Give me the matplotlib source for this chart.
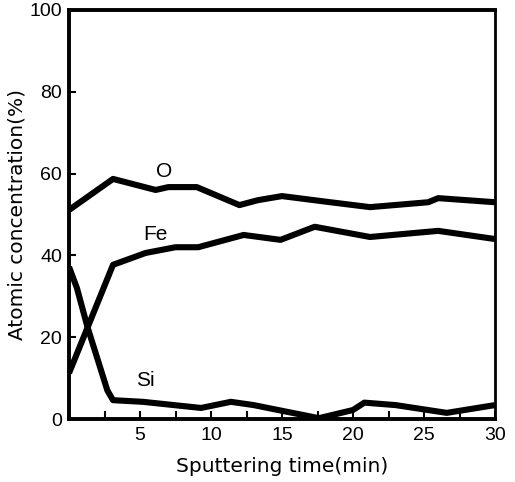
import matplotlib
matplotlib.use("Agg")
import matplotlib.pyplot as plt
from matplotlib.ticker import MultipleLocator

# Data
o_time = [0, 3.1, 6.1, 7.0, 9.0, 12.0, 13.3, 15.0, 18.4, 21.2, 25.3, 26.0, 30.0]
o_conc = [51.1, 58.7, 56.0, 56.7, 56.7, 52.3, 53.5, 54.5, 53.0, 51.8, 53.0, 54.0, 53.0]

fe_time = [0, 3.1, 5.4, 7.5, 9.1, 12.3, 14.9, 17.3, 21.2, 26.0, 30.0]
fe_conc = [11.2, 37.7, 40.6, 42.0, 42.0, 45.0, 43.8, 47.0, 44.5, 46.0, 44.0]

si_time = [0, 0.56, 1.3, 2.7, 3.1, 5.2, 9.3, 11.4, 13.0, 17.6, 19.4, 20.0, 20.8, 23.0, 26.6, 30.0]
si_conc = [37.2, 32.0, 22.5, 7.0, 4.6, 4.2, 2.7, 4.2, 3.4, 0.2, 1.7, 2.2, 4.0, 3.4, 1.5, 3.4]

labels = ["O", "Fe", "Si"]
label_pos = [(6.7, 60.6), (6.1, 45.0), (5.4, 9.5)]

x_ticks = [5, 10, 15, 20, 25, 30]
y_ticks = [0, 20, 40, 60, 80, 100]

plt.rcParams['font.family'] = ['Liberation Sans', 'DejaVu Sans']

fig = plt.figure(figsize=(5.15, 4.82), dpi=100)
ax = fig.add_axes([69/515, 1 - 419/482, (495-69)/515, (419-10)/482])

for t, c in [(o_time, o_conc), (fe_time, fe_conc), (si_time, si_conc)]:
    ax.plot(t, c, color='black', lw=4.4, solid_joinstyle='round', solid_capstyle='butt')

for lab, (lx, ly) in zip(labels, label_pos):
    ax.text(lx, ly, lab, fontsize=15, ha='center', va='center')

ax.set_xlim(0, 30)
ax.set_ylim(0, 100)
ax.set_xticks(x_ticks)
ax.set_yticks(y_ticks)
ax.xaxis.set_minor_locator(MultipleLocator(2.5))
ax.tick_params(axis='both', which='both', direction='in', labelsize=14, width=1.5)
ax.tick_params(axis='x', which='major', length=6, pad=6)
ax.tick_params(axis='x', which='minor', length=6)
ax.tick_params(axis='y', which='major', length=5, pad=5)
for side in ['left', 'bottom', 'top']:
    ax.spines[side].set_linewidth(2.8)
ax.spines['right'].set_linewidth(2.0)

ax.set_xlabel("Sputtering time(min)", fontsize=14.5, family='DejaVu Sans', labelpad=9)
ax.set_ylabel("Atomic concentration(%)", fontsize=14.5, family='DejaVu Sans', labelpad=2)

fig.savefig("out.png", dpi=100)
